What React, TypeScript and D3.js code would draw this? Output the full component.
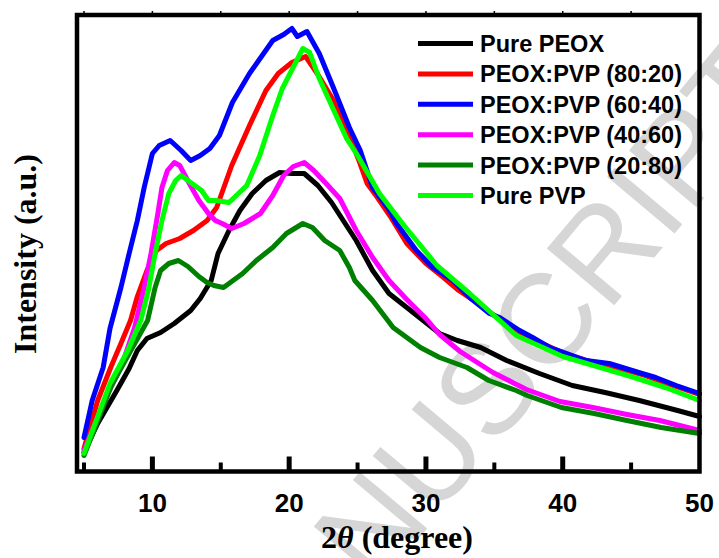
import React from 'react';
import * as d3 from 'd3';

const seriesNames = [
  'Pure PEOX',
  'PEOX:PVP (80:20)',
  'PEOX:PVP (60:40)',
  'PEOX:PVP (40:60)',
  'PEOX:PVP (20:80)',
  'Pure PVP',
];
const seriesColors = ['#000000', '#ff0000', '#0000ff', '#ff00ff', '#008000', '#00ff00'];

// [2θ, intensity (a.u.)]
const purePEOX = [
  [5.0, 19], [6.0, 48], [7.4, 81], [8.3, 103], [8.9, 121], [9.6, 133], [10.6, 139], [11.6, 148],
  [12.8, 161], [13.5, 173], [14.3, 191], [14.8, 218], [15.6, 241], [16.4, 261], [17.3, 278],
  [18.3, 291], [19.3, 299], [20.2, 298], [21.1, 298], [22.1, 286], [23.1, 269], [24.9, 231],
  [26.1, 201], [27.3, 178], [28.6, 164], [29.8, 151], [31.0, 138], [32.3, 131], [34.0, 124],
  [35.9, 111], [38.3, 98], [40.7, 86], [43.1, 79], [45.6, 71], [48.4, 61], [50, 55],
];
const peoxPvp8020 = [
  [5.0, 23], [6.0, 71], [6.95, 104], [7.7, 128], [8.4, 151], [8.9, 175], [9.6, 201], [10.3, 221],
  [11.0, 228], [12.0, 233], [13.0, 241], [14.0, 251], [14.7, 264], [15.8, 306], [17.1, 346],
  [18.3, 381], [19.2, 398], [20.2, 409], [21.2, 415], [22.1, 397], [23.2, 372], [24.3, 339],
  [25.1, 311], [25.7, 288], [26.4, 275], [27.4, 255], [28.6, 228], [30.0, 208], [31.2, 195],
  [32.4, 181], [33.6, 170], [35.0, 156], [36.8, 140], [38.5, 128], [40.3, 117], [42.0, 110],
  [43.6, 105], [45.8, 97], [47.6, 88], [50, 77],
];
const peoxPvp6040 = [
  [5.0, 34], [5.6, 71], [6.4, 104], [6.9, 143], [7.7, 184], [8.3, 218], [8.9, 251], [9.4, 284],
  [10.0, 318], [10.5, 326], [11.3, 331], [12.1, 321], [12.8, 311], [13.5, 316], [14.2, 323],
  [14.9, 336], [15.85, 369], [17.1, 398], [18.8, 431], [19.6, 437], [20.2, 443], [20.6, 435],
  [21.3, 440], [22.2, 418], [23.2, 385], [23.7, 368], [24.4, 344], [25.2, 321], [26.1, 284],
  [27.35, 261], [27.85, 248], [29.3, 221], [30.5, 204], [31.95, 191], [33.2, 174], [34.65, 158],
  [35.4, 154], [36.85, 141], [37.8, 134], [39.05, 124], [40.3, 118], [41.7, 111], [43.4, 108],
  [45.8, 98], [46.8, 94], [48.3, 86], [50, 78],
];
const peoxPvp4060 = [
  [5.0, 21], [6.5, 71], [7.7, 104], [8.7, 144], [9.4, 184], [9.9, 218], [10.4, 258], [10.7, 284],
  [11.1, 301], [11.6, 309], [12.0, 306], [12.7, 288], [13.4, 271], [14.1, 258], [14.6, 251],
  [15.1, 248], [15.8, 243], [16.7, 248], [17.9, 258], [18.8, 276], [19.6, 296], [20.3, 305],
  [21.1, 309], [21.8, 301], [22.7, 288], [23.7, 273], [24.9, 241], [26.1, 214], [27.3, 191],
  [28.6, 172], [30.0, 153], [31.0, 137], [32.5, 120], [34.9, 99], [37.35, 82], [39.8, 70],
  [42.2, 64], [44.7, 57], [47.1, 51], [50, 41],
];
const peoxPvp2080 = [
  [5.0, 16], [7.0, 86], [8.3, 118], [9.65, 151], [10.2, 184], [10.6, 201], [11.2, 208],
  [11.9, 211], [12.6, 205], [13.4, 195], [14.0, 189], [14.5, 186], [15.2, 184], [15.9, 191],
  [16.6, 198], [17.6, 211], [18.8, 224], [19.8, 238], [21.0, 248], [21.7, 244], [22.6, 231],
  [23.7, 221], [24.4, 204], [24.8, 191], [26.1, 171], [27.6, 144], [29.6, 124], [31.0, 114],
  [33.0, 104], [34.6, 91], [36.6, 81], [37.4, 76], [39.9, 64], [42.3, 58], [44.7, 51],
  [47.2, 44], [50, 38],
];
const purePVP = [
  [5.0, 18], [6.9, 88], [8.2, 121], [9.15, 151], [9.7, 181], [10.2, 218], [10.7, 251],
  [11.2, 278], [11.7, 291], [12.1, 296], [12.9, 288], [13.6, 281], [14.1, 271], [14.6, 271],
  [15.6, 269], [16.9, 286], [17.85, 316], [18.8, 356], [19.5, 383], [20.25, 403], [21.0, 423],
  [21.5, 419], [22.2, 393], [23.2, 363], [24.2, 333], [25.0, 316], [26.6, 278], [28.4, 246],
  [30.8, 206], [33.2, 178], [36.6, 136], [40.0, 115], [42.5, 105], [45.0, 95], [47.5, 84],
  [50, 71],
];
const seriesData = [purePEOX, peoxPvp8020, peoxPvp6040, peoxPvp4060, peoxPvp2080, purePVP];

const xMajorTicks = [10, 20, 30, 40, 50];
const xMinorTicks = [5, 15, 25, 35, 45];

const SANS = "'Liberation Sans', Arial, 'DejaVu Sans', sans-serif";
const SERIF = "'Liberation Serif', 'Times New Roman', 'DejaVu Serif', serif";

export default function App() {
  const left = 77, right = 699.5, top = 15, bottom = 471.5;
  const x = d3.scaleLinear().domain([5, 50]).range([84, 699.5]);
  const y = d3.scaleLinear().domain([0, 456.5]).range([bottom, top]);
  const line = d3
    .line<number[]>()
    .x((d) => x(d[0]))
    .y((d) => y(d[1]))
    .curve(d3.curveLinear);

  return (
    <svg
      width={719}
      height={558}
      style={{ position: 'absolute', left: 0, top: 0, background: '#ffffff' }}
    >
      <rect x={0} y={0} width={719} height={558} fill="#ffffff" />
      {/* watermark */}
      <text
        transform="translate(795,90) rotate(-50)"
        textAnchor="end"
        fontFamily={SANS}
        fontSize={128}
        fill="#d6d6d6"
      >
        NUSCRIPT
      </text>

      {/* curves */}
      {seriesData.map((s, i) => (
        <path
          key={seriesNames[i]}
          d={line(s) || ''}
          fill="none"
          stroke={seriesColors[i]}
          strokeWidth={5}
          strokeLinejoin="round"
          strokeLinecap="round"
        />
      ))}

      {/* frame */}
      <rect
        x={left}
        y={top}
        width={right - left}
        height={bottom - top}
        fill="none"
        stroke="#000"
        strokeWidth={4.5}
      />
      {xMajorTicks.filter((t) => t < 50).map((t) => (
        <line key={'M' + t} x1={x(t)} x2={x(t)} y1={bottom} y2={bottom - 15} stroke="#000" strokeWidth={5} />
      ))}
      {xMinorTicks.map((t) => (
        <line key={'m' + t} x1={x(t)} x2={x(t)} y1={bottom} y2={bottom - 9} stroke="#000" strokeWidth={4} />
      ))}
      {[...xMajorTicks, ...xMinorTicks].filter((t) => t < 50).map((t) => (
        <line key={'t' + t} x1={x(t)} x2={x(t)} y1={top} y2={top - 4} stroke="#000" strokeWidth={1.5} />
      ))}
      {xMajorTicks.map((t) => (
        <text
          key={'l' + t}
          x={x(t)}
          y={512}
          textAnchor="middle"
          fontFamily={SANS}
          fontWeight="bold"
          fontSize={26}
          fill="#000"
        >
          {t}
        </text>
      ))}

      {/* axis titles */}
      <text
        transform="translate(36,254) rotate(-90)"
        textAnchor="middle"
        fontFamily={SERIF}
        fontWeight="bold"
        fontSize={32}
        fill="#000"
      >
        Intensity (a.u.)
      </text>
      <text x={397} y={548} textAnchor="middle" fontFamily={SERIF} fontWeight="bold" fontSize={32} fill="#000">
        <tspan>2</tspan>
        <tspan fontStyle="italic">θ</tspan>
        <tspan> (degree)</tspan>
      </text>

      {/* legend */}
      {seriesNames.map((n, i) => {
        const ly = 43.5 + i * 30.4;
        return (
          <g key={'leg' + n}>
            <line x1={418} x2={473} y1={ly} y2={ly} stroke={seriesColors[i]} strokeWidth={5} />
            <text x={480} y={ly + 8.5} fontFamily={SANS} fontWeight="bold" fontSize={23.5} fill="#000">
              {n}
            </text>
          </g>
        );
      })}
    </svg>
  );
}
